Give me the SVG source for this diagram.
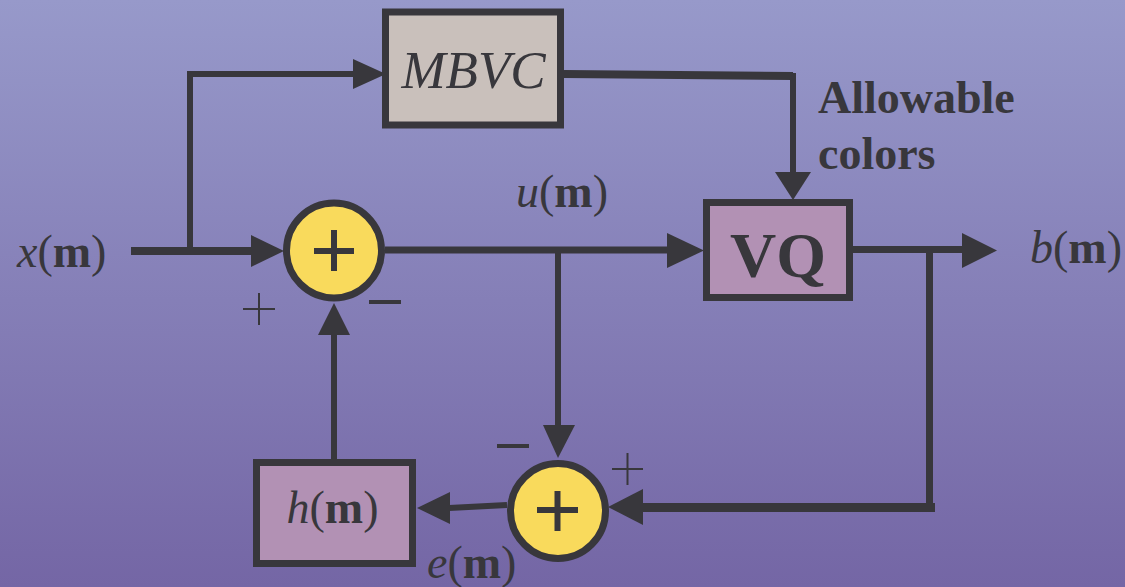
<svg xmlns="http://www.w3.org/2000/svg" width="1125" height="587" viewBox="0 0 1125 587">
<defs>
<linearGradient id="bg" x1="0" y1="0" x2="0" y2="1">
<stop offset="0" stop-color="#9799ca"/>
<stop offset="1" stop-color="#7466a5"/>
</linearGradient>
<style>
.ln{stroke:#38373c;fill:none;stroke-linecap:butt}
.ah{fill:#38373c}
.box{stroke:#38373c;stroke-width:7}
.sum{fill:#f9da5c;stroke:#38373c;stroke-width:7}
.sg{stroke:#38373c;stroke-width:6}
.thin{stroke:#38373c;stroke-width:2}
.lbl{font-family:"Liberation Serif","Times New Roman",serif;fill:#38373c}
.it{font-style:italic}
.bd{font-weight:bold}
</style>
</defs>
<rect width="1125" height="587" fill="url(#bg)"/>
<g id="connectors">
<path class="ln" stroke-width="8" d="M131 251 H252"/>
<polygon class="ah" points="251,235 284,251 251,267"/>
<path class="ln" stroke-width="6" d="M190 252 V74 H354"/>
<polygon class="ah" points="353,59 386,74 353,89"/>
<path class="ln" stroke-width="8" d="M564 74 L793 76"/>
<path class="ln" stroke-width="6" d="M793 73 V173"/>
<polygon class="ah" points="775,172 811,172 793,200"/>
<path class="ln" stroke-width="7" d="M385 250 H668"/>
<polygon class="ah" points="667,233 704,250.5 667,268"/>
<path class="ln" stroke-width="6" d="M558 247 V426"/>
<polygon class="ah" points="543,425 575,425 558,458"/>
<path class="ln" stroke-width="7" d="M853 249.5 H963"/>
<polygon class="ah" points="962,233 997,250.5 962,268"/>
<path class="ln" stroke-width="7" d="M929.5 249.5 V511"/>
<path class="ln" stroke-width="9" d="M935 507.5 H642"/>
<polygon class="ah" points="643,489 608,507 643,525"/>
<path class="ln" stroke-width="6" d="M507 505 L449 508"/>
<polygon class="ah" points="450,492 417,508 450,524"/>
<path class="ln" stroke-width="6" d="M334 459 V334"/>
<polygon class="ah" points="318,335 350,335 334,303"/>
</g>
<g id="mbvc">
<rect class="box" x="385.5" y="12" width="175" height="113" fill="#c9c0bb"/>
<text class="lbl it" x="473.5" y="88" font-size="53" text-anchor="middle">MBVC</text>
</g>
<g id="vq">
<rect class="box" x="706.5" y="202.5" width="143" height="95" fill="#b291b4"/>
<text class="lbl bd" x="778" y="277" font-size="64" text-anchor="middle">VQ</text>
</g>
<g id="hm">
<rect class="box" x="256.5" y="462.5" width="156" height="101" fill="#b291b4"/>
<text class="lbl" x="332.5" y="523" font-size="46" text-anchor="middle"><tspan class="it">h</tspan>(<tspan class="bd">m</tspan>)</text>
</g>
<g id="sum1">
<circle class="sum" cx="334" cy="250.5" r="47.5"/>
<path class="sg" d="M314 251 H354 M334 230 V271"/>
<path class="thin" d="M243 309 H275 M259 293 V325"/>
<path class="ln" stroke-width="4" d="M369 302 H401"/>
</g>
<g id="sum2">
<circle class="sum" cx="558" cy="511" r="47.5"/>
<path class="sg" d="M537 510 H578 M557.5 491 V531"/>
<path class="thin" d="M612 469 H643 M627.5 453 V485"/>
<path class="ln" stroke-width="4" d="M497 446 H529"/>
</g>
<g id="labels">
<text class="lbl" x="17" y="267" font-size="46"><tspan class="it">x</tspan>(<tspan class="bd">m</tspan>)</text>
<text class="lbl" x="516" y="207" font-size="46"><tspan class="it">u</tspan>(<tspan class="bd">m</tspan>)</text>
<text class="lbl" x="1030" y="263" font-size="46"><tspan class="it">b</tspan>(<tspan class="bd">m</tspan>)</text>
<text class="lbl" x="427" y="578" font-size="46"><tspan class="it">e</tspan>(<tspan class="bd">m</tspan>)</text>
<text class="lbl bd" x="818" y="113" font-size="46">Allowable</text>
<text class="lbl bd" x="818" y="169" font-size="46">colors</text>
</g>
</svg>
